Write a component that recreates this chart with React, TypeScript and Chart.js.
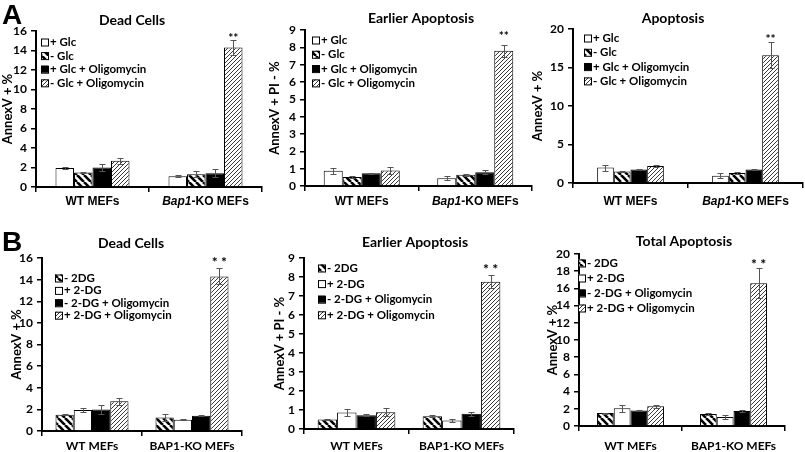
import React, { useEffect, useRef } from "react";
import { Chart, registerables } from "chart.js";
Chart.register(...registerables);

// ---------- categories / series ----------
const groupsA = ["WT MEFs", "Bap1-KO MEFs"];
const groupsB = ["WT MEFs", "BAP1-KO MEFs"];
const seriesA = ["+ Glc", "- Glc", "+ Glc + Oligomycin", "- Glc + Oligomycin"];
const seriesB = ["- 2DG", "+ 2-DG", "- 2-DG + Oligomycin", "+ 2-DG + Oligomycin"];

// ---------- values (per series, order as legend) ----------
const deadA_WT = [1.95, 1.5, 2.0, 2.7];
const deadA_KO = [1.1, 1.3, 1.4, 14.3];
const deadA_WTerr = [0.15, 0.05, 0.35, 0.3];
const deadA_KOerr = [0.12, 0.3, 0.4, 0.8];

const earlyA_WT = [0.88, 0.52, 0.73, 0.9];
const earlyA_KO = [0.45, 0.65, 0.8, 7.8];
const earlyA_WTerr = [0.18, 0.05, 0.04, 0.18];
const earlyA_KOerr = [0.1, 0.05, 0.1, 0.35];

const apopA_WT = [2.0, 1.5, 1.75, 2.2];
const apopA_KO = [0.95, 1.3, 1.75, 16.6];
const apopA_WTerr = [0.4, 0.1, 0.1, 0.15];
const apopA_KOerr = [0.3, 0.15, 0.08, 1.7];

const deadB_WT = [1.5, 1.95, 2.0, 2.75];
const deadB_KO = [1.25, 1.05, 1.4, 14.3];
const deadB_WTerr = [0.05, 0.15, 0.4, 0.3];
const deadB_KOerr = [0.35, 0.05, 0.05, 0.75];

const earlyB_WT = [0.5, 0.87, 0.73, 0.88];
const earlyB_KO = [0.67, 0.45, 0.8, 7.75];
const earlyB_WTerr = [0.05, 0.18, 0.05, 0.2];
const earlyB_KOerr = [0.05, 0.1, 0.12, 0.35];

const totalB_WT = [1.5, 2.05, 1.8, 2.3];
const totalB_KO = [1.4, 1.05, 1.75, 16.6];
const totalB_WTerr = [0.05, 0.4, 0.1, 0.15];
const totalB_KOerr = [0.1, 0.2, 0.1, 1.75];

const fillsA = ["white", "stripe", "black", "hatch"];
const fillsB = ["stripe", "white", "black", "hatch"];

type Panel = {
  left: number; top: number; w: number; h: number;
  area: number[]; max: number; step: number;
  title: string; titleX: number; titleBase: number;
  yTitle: string; groups: string[]; italicFirst: boolean;
  series: string[]; fills: string[];
  wt: number[]; ko: number[]; wtErr: number[]; koErr: number[];
  legX: number; legY: number; legGap: number;
  catPct: number; labelBase: number; stars: string; starGap: number; starSize: number;
  labelFont: string;
};

const panels: Panel[] = [
  {
    left: 0, top: 0, w: 268, h: 212, area: [36, 31, 262, 187], max: 16, step: 2,
    title: "Dead Cells", titleX: 132, titleBase: 25, yTitle: "AnnexV + %",
    groups: groupsA, italicFirst: true, series: seriesA, fills: fillsA,
    wt: deadA_WT, ko: deadA_KO, wtErr: deadA_WTerr, koErr: deadA_KOerr,
    legX: 41, legY: 42, legGap: 13.6, catPct: 0.655, labelBase: 205, stars: "**", starGap: 2, starSize: 12,
    labelFont: '"Liberation Sans"',
  },
  {
    left: 267, top: 0, w: 268, h: 212, area: [305, 30, 532, 186], max: 9, step: 1,
    title: "Earlier Apoptosis", titleX: 421, titleBase: 23, yTitle: "AnnexV + PI - %",
    groups: groupsA, italicFirst: true, series: seriesA, fills: fillsA,
    wt: earlyA_WT, ko: earlyA_KO, wtErr: earlyA_WTerr, koErr: earlyA_KOerr,
    legX: 312, legY: 40, legGap: 14.3, catPct: 0.67, labelBase: 205, stars: "**", starGap: 9, starSize: 12,
    labelFont: '"Liberation Sans"',
  },
  {
    left: 530, top: 0, w: 275, h: 212, area: [573, 29, 803, 183], max: 20, step: 5,
    title: "Apoptosis", titleX: 673, titleBase: 22.5, yTitle: "AnnexV + %",
    groups: groupsA, italicFirst: true, series: seriesA, fills: fillsA,
    wt: apopA_WT, ko: apopA_KO, wtErr: apopA_WTerr, koErr: apopA_KOerr,
    legX: 584, legY: 38, legGap: 14.3, catPct: 0.58, labelBase: 205, stars: "**", starGap: 4, starSize: 12,
    labelFont: '"Liberation Sans"',
  },
  {
    left: 9, top: 215, w: 236, h: 237, area: [42, 258, 242, 431], max: 16, step: 2,
    title: "Dead Cells", titleX: 131, titleBase: 248, yTitle: "AnnexV + %",
    groups: groupsB, italicFirst: false, series: seriesB, fills: fillsB,
    wt: deadB_WT, ko: deadB_KO, wtErr: deadB_WTerr, koErr: deadB_KOerr,
    legX: 55, legY: 278, legGap: 12.4, catPct: 0.73, labelBase: 450, stars: "* *", starGap: 7, starSize: 14,
    labelFont: "Lato",
  },
  {
    left: 272, top: 215, w: 250, h: 237, area: [304, 258, 514, 429], max: 9, step: 1,
    title: "Earlier Apoptosis", titleX: 415, titleBase: 247, yTitle: "AnnexV + PI - %",
    groups: groupsB, italicFirst: false, series: seriesB, fills: fillsB,
    wt: earlyB_WT, ko: earlyB_KO, wtErr: earlyB_WTerr, koErr: earlyB_KOerr,
    legX: 318, legY: 268, legGap: 15.6, catPct: 0.74, labelBase: 450, stars: "* *", starGap: 6, starSize: 14,
    labelFont: "Lato",
  },
  {
    left: 545, top: 215, w: 260, h: 237, area: [579, 254, 785, 426], max: 20, step: 2,
    title: "Total Apoptosis", titleX: 684, titleBase: 246, yTitle: "AnnexV + %",
    groups: groupsB, italicFirst: false, series: seriesB, fills: fillsB,
    wt: totalB_WT, ko: totalB_KO, wtErr: totalB_WTerr, koErr: totalB_KOerr,
    legX: 578, legY: 263, legGap: 15, catPct: 0.65, labelBase: 450, stars: "* *", starGap: 5, starSize: 14,
    labelFont: "Lato",
  },
];

function makeFill(kind: string): string | CanvasPattern {
  if (kind === "white") return "#ffffff";
  if (kind === "black") return "#000000";
  const c = document.createElement("canvas");
  const s = kind === "stripe" ? 7 : 4;
  c.width = s;
  c.height = s;
  const g = c.getContext("2d")!;
  g.fillStyle = "#fff";
  g.fillRect(0, 0, s, s);
  g.strokeStyle = kind === "stripe" ? "#000" : "#3a3a3a";
  g.lineWidth = kind === "stripe" ? 2.6 : 1;
  g.beginPath();
  for (const o of [-s, 0, s]) {
    if (kind === "stripe") {
      g.moveTo(o, 0);
      g.lineTo(o + s, s);
    } else {
      g.moveTo(o, s);
      g.lineTo(o + s, 0);
    }
  }
  g.stroke();
  return g.createPattern(c, "repeat")!;
}

function PanelChart({ p }: { p: Panel }) {
  const ref = useRef<HTMLCanvasElement>(null);
  useEffect(() => {
    const cv = ref.current!;
    const L = p.area[0] - p.left;
    const T = p.area[1] - p.top;
    const R = p.area[2] - p.left;
    const B = p.area[3] - p.top;
    const fills = p.fills.map(makeFill);
    const values = [p.wt, p.ko];
    const errs = [p.wtErr, p.koErr];

    const plugin = {
      id: "extras",
      afterDatasetsDraw(chart: any) {
        const ctx = chart.ctx;
        const ys = chart.scales.y;
        ctx.save();
        ctx.strokeStyle = "#555";
        ctx.lineWidth = 1;
        chart.data.datasets.forEach((_ds: any, i: number) => {
          const meta = chart.getDatasetMeta(i);
          meta.data.forEach((bar: any, j: number) => {
            const v = values[j][i];
            const e = errs[j][i];
            const x = Math.round(bar.x) + 0.5;
            const y1 = Math.round(ys.getPixelForValue(v + e)) + 0.5;
            const y2 = Math.round(ys.getPixelForValue(Math.max(0, v - e))) + 0.5;
            ctx.beginPath();
            ctx.moveTo(x, y1);
            ctx.lineTo(x, y2);
            ctx.moveTo(x - 3, y1);
            ctx.lineTo(x + 3, y1);
            ctx.moveTo(x - 3, y2);
            ctx.lineTo(x + 3, y2);
            ctx.stroke();
          });
        });
        // significance stars on the last series of the KO group
        const last = chart.getDatasetMeta(3).data[1];
        const top = ys.getPixelForValue(values[1][3] + errs[1][3]);
        ctx.fillStyle = "#000";
        ctx.font = `bold ${p.starSize}px Lato`;
        ctx.textAlign = "center";
        ctx.textBaseline = "alphabetic";
        ctx.fillText(p.stars, last.x, top - p.starGap + p.starSize * 0.38);
        ctx.restore();
      },
      afterDraw(chart: any) {
        const ctx = chart.ctx;
        ctx.save();
        ctx.fillStyle = "#000";
        // title
        ctx.font = "bold 14px Lato";
        ctx.textAlign = "center";
        ctx.textBaseline = "alphabetic";
        ctx.fillText(p.title, p.titleX - p.left, p.titleBase - p.top);
        // legend
        ctx.font = "bold 11.5px Lato";
        ctx.textAlign = "left";
        p.series.forEach((s, i) => {
          const bx = p.legX - p.left;
          const cy = p.legY - p.top + i * p.legGap;
          ctx.fillStyle = fills[i];
          ctx.fillRect(bx, cy - 3.5, 7, 7);
          ctx.strokeStyle = "#000";
          ctx.lineWidth = 1;
          ctx.strokeRect(bx + 0.5, cy - 3.5 + 0.5, 7, 7);
          ctx.fillStyle = "#000";
          ctx.fillText(s, bx + 9, cy + 4);
        });
        // category labels
        const xs = chart.scales.x;
        p.groups.forEach((g, j) => {
          const cx = xs.getPixelForValue(j);
          const base = p.labelBase - p.top;
          const bold = `bold 12px ${p.labelFont}`;
          if (p.italicFirst && g.indexOf("Bap1") === 0) {
            const ital = `italic bold 12px ${p.labelFont}`;
            const rest = g.slice(4);
            ctx.font = ital;
            const w1 = ctx.measureText("Bap1").width;
            ctx.font = bold;
            const w2 = ctx.measureText(rest).width;
            const x0 = cx - (w1 + w2) / 2;
            ctx.textAlign = "left";
            ctx.font = ital;
            ctx.fillText("Bap1", x0, base);
            ctx.font = bold;
            ctx.fillText(rest, x0 + w1, base);
          } else {
            ctx.font = bold;
            ctx.textAlign = "center";
            ctx.fillText(g, cx, base);
          }
        });
        ctx.restore();
      },
    };

    const chart = new Chart(cv, {
      type: "bar",
      data: {
        labels: p.groups,
        datasets: p.series.map((s, i) => ({
          label: s,
          data: [p.wt[i], p.ko[i]],
          backgroundColor: fills[i] as any,
          borderColor: "#000",
          borderWidth: 1,
          barPercentage: 1,
          categoryPercentage: p.catPct,
        })),
      },
      options: {
        responsive: false,
        animation: false,
        devicePixelRatio: 1,
        events: [],
        layout: { padding: { left: 0, top: T, right: p.w - R, bottom: 0 } },
        plugins: {
          legend: { display: false },
          title: { display: false },
          tooltip: { enabled: false },
        },
        scales: {
          x: {
            grid: {
              display: true,
              drawOnChartArea: false,
              drawTicks: true,
              tickLength: 5,
              color: "#000",
              lineWidth: 1.5,
              offset: true,
            },
            border: { color: "#000", width: 2 },
            ticks: { display: false },
            afterFit: (s: any) => {
              s.height = p.h - B;
            },
          },
          y: {
            min: 0,
            max: p.max,
            ticks: {
              stepSize: p.step,
              autoSkip: false,
              color: "#000",
              padding: 4,
              font: { family: "Lato", weight: "bold", size: 12 },
            },
            grid: {
              drawOnChartArea: false,
              tickLength: 5,
              color: "#000",
              lineWidth: 1.5,
            },
            border: { color: "#000", width: 2 },
            title: {
              display: true,
              text: p.yTitle,
              color: "#000",
              padding: 0,
              font: { family: "Lato", weight: "bold", size: 13 },
            },
            afterFit: (s: any) => {
              s.width = L;
            },
          },
        },
      } as any,
      plugins: [plugin],
    });
    return () => chart.destroy();
  }, []);
  return (
    <canvas
      ref={ref}
      width={p.w}
      height={p.h}
      style={{ position: "absolute", left: p.left, top: p.top, width: p.w, height: p.h }}
    />
  );
}

export default function App() {
  const letter: React.CSSProperties = {
    position: "absolute",
    left: 2,
    fontFamily: '"Liberation Sans", Arial, sans-serif',
    fontWeight: "bold",
    fontSize: 28,
    lineHeight: "28px",
    color: "#000",
  };
  return (
    <div style={{ position: "absolute", left: 0, top: 0, width: 805, height: 452, background: "#fff", overflow: "hidden" }}>
      {panels.map((p, i) => (
        <PanelChart key={i} p={p} />
      ))}
      <div style={{ ...letter, top: 1 }}>A</div>
      <div style={{ ...letter, top: 228 }}>B</div>
    </div>
  );
}
